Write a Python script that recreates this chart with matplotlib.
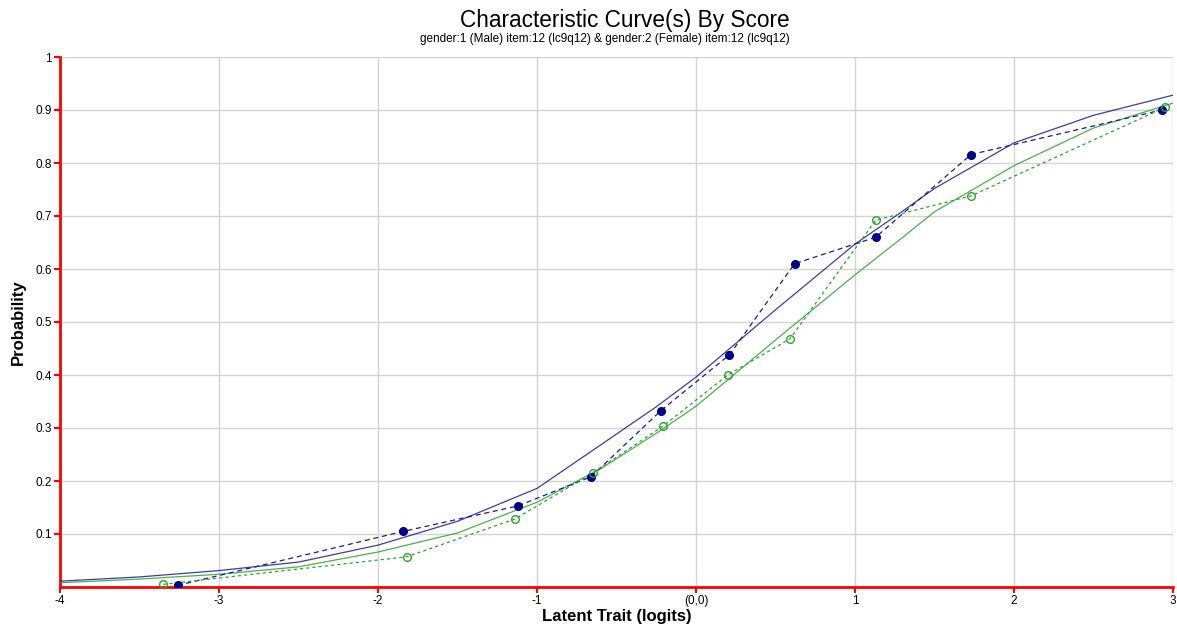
import matplotlib
matplotlib.use("Agg")
import matplotlib.pyplot as plt
import numpy as np
from matplotlib.ticker import FixedLocator

plt.rcParams['font.family'] = ['Liberation Sans', 'DejaVu Sans']

# Observed points
male_x = [-3.26, -1.84, -1.12, -0.66, -0.22, 0.21, 0.62, 1.13, 1.73, 2.93]
male_y = [0.003, 0.105, 0.153, 0.208, 0.333, 0.438, 0.610, 0.660, 0.816, 0.900]
female_x = [-3.35, -1.82, -1.14, -0.65, -0.21, 0.20, 0.59, 1.13, 1.73, 2.95]
female_y = [0.005, 0.057, 0.128, 0.215, 0.303, 0.400, 0.468, 0.692, 0.738, 0.905]

# Model curves (sampled)
curve_x = [-4, -3.5, -3, -2.5, -2, -1.5, -1, -0.6, -0.25, 0, 0.5, 1, 1.28, 1.5, 2, 2.5, 3]
male_curve = [0.011, 0.019, 0.031, 0.047, 0.079, 0.124, 0.186, 0.268, 0.340, 0.396, 0.523, 0.647, 0.705, 0.752, 0.838, 0.890, 0.928]
female_curve = [0.008, 0.015, 0.024, 0.038, 0.066, 0.102, 0.160, 0.223, 0.290, 0.341, 0.466, 0.589, 0.655, 0.708, 0.795, 0.866, 0.913]

xticks = [-4, -3, -2, -1, 0, 1, 2, 3]
xticklabels = ['-4', '-3', '-2', '-1', '(0,0)', '1', '2', '3']
yticks = [0.1, 0.2, 0.3, 0.4, 0.5, 0.6, 0.7, 0.8, 0.9, 1.0]
yticklabels = ['0.1', '0.2', '0.3', '0.4', '0.5', '0.6', '0.7', '0.8', '0.9', '1']

fig = plt.figure(figsize=(11.77, 6.3), dpi=100)
ax = fig.add_axes([60/1177, 43/630, (1173-60)/1177, (587-57)/630])

blue = '#1a1aa0'
green = '#2aa52a'

ax.plot(curve_x, male_curve, color=blue, lw=0.9, alpha=0.85, zorder=3)
ax.plot(curve_x, female_curve, color=green, lw=0.9, alpha=0.85, zorder=3)
ax.plot(male_x, male_y, color=blue, lw=0.9, ls=(0, (4, 3)), zorder=4)
ax.plot(female_x, female_y, color=green, lw=0.9, ls=(0, (2.5, 2.5)), zorder=4)
ax.plot(male_x, male_y, 'o', color='#00008b', ms=5.5, zorder=5)
ax.plot(female_x, female_y, 'o', mfc='none', mec=green, mew=1.0, ms=5.5, zorder=5)

ax.set_xlim(-4, 3)
ax.set_ylim(0, 1)
ax.xaxis.set_major_locator(FixedLocator(xticks))
ax.set_xticklabels(xticklabels)
ax.yaxis.set_major_locator(FixedLocator(yticks))
ax.set_yticklabels(yticklabels)
ax.grid(True, color='#d3d3d3', lw=1.0)
ax.set_axisbelow(True)

for s in ['top', 'right']:
    ax.spines[s].set_visible(False)
for s in ['left', 'bottom']:
    ax.spines[s].set_color('red')
    ax.spines[s].set_linewidth(2)
ax.tick_params(axis='both', colors='red', labelcolor='black', labelsize=8.5, length=4, width=1.5, direction='out', pad=2)

ax.set_xlabel('Latent Trait (logits)', fontsize=12, fontweight='bold', labelpad=1)
ax.set_ylabel('Probability', fontsize=12, fontweight='bold', labelpad=7)

fig.text(625/1177, 1 - 20/630, 'Characteristic Curve(s) By Score', fontsize=16.3, ha='center', va='center')
fig.text(605/1177, 1 - 39/630, 'gender:1 (Male) item:12 (lc9q12) & gender:2 (Female) item:12 (lc9q12)', fontsize=8.5, ha='center', va='center')

fig.savefig('out.png', dpi=100)
